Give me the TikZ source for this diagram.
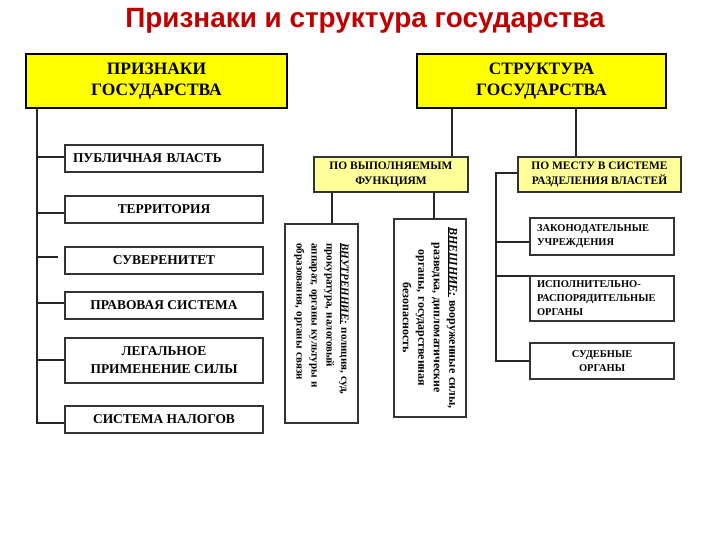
\documentclass[tikz,border=0pt]{standalone}
\usepackage{fontspec}
\setmainfont{Liberation Serif}
\newfontfamily\titlefont{Liberation Sans}
\definecolor{yellowA}{HTML}{FFFF00}
\definecolor{yellowB}{HTML}{FFFF99}
\definecolor{titlered}{HTML}{C00000}
\definecolor{edgegray}{HTML}{333333}
\begin{document}
\begin{tikzpicture}[x=1bp,y=-1bp,
  topbox/.style={draw=black, line width=1.2bp, fill=yellowA, align=center, inner sep=0pt,
    font=\bfseries\fontsize{17.5}{21}\selectfont},
  lbox/.style={draw=edgegray, line width=1.2bp, fill=white, align=center, inner sep=0pt,
    minimum width=198bp, font=\bfseries\fontsize{13.5}{18}\selectfont},
  midbox/.style={draw=edgegray, line width=1.2bp, fill=yellowB, align=center, inner sep=0pt,
    font=\bfseries\fontsize{11.5}{15}\selectfont},
  rbox/.style={draw=edgegray, line width=1.2bp, fill=white, inner sep=0pt,
    minimum width=144bp, font=\bfseries\fontsize{10.5}{14}\selectfont},
  vbox/.style={draw=edgegray, line width=1.2bp, fill=white, inner sep=0pt, rotate=-90},
  conn/.style={draw=black!85, line width=1.2bp}]
\fill[white] (0,0) rectangle (720,540);
\useasboundingbox (0,0) rectangle (720,540);

\node[anchor=base, text=titlered, font=\titlefont\bfseries\fontsize{28}{32}\selectfont] (title) at (365,28) {Признаки и структура государства};

\node[topbox, minimum width=261bp, minimum height=54bp] (b1) at (156.5,81) {ПРИЗНАКИ\\ГОСУДАРСТВА};
\node[topbox, minimum width=249bp, minimum height=54bp] (b2) at (541.5,81) {СТРУКТУРА\\ГОСУДАРСТВА};

% left column
\node[lbox, minimum height=27bp, text width=182bp, align=left, inner xsep=8bp] (pub) at (164,158.5) {ПУБЛИЧНАЯ ВЛАСТЬ};
\node[lbox, minimum height=27bp] (terr) at (164,209.5) {ТЕРРИТОРИЯ};
\node[lbox, minimum height=27bp] (suv) at (164,260.5) {СУВЕРЕНИТЕТ};
\node[lbox, minimum height=27bp] (prav) at (164,305.5) {ПРАВОВАЯ СИСТЕМА};
\node[lbox, minimum height=45bp] (leg) at (164,360.5) {ЛЕГАЛЬНОЕ\\ПРИМЕНЕНИЕ СИЛЫ};
\node[lbox, minimum height=27bp] (nal) at (164,419.5) {СИСТЕМА НАЛОГОВ};

\coordinate (sp) at (37,0);
\draw[conn] (b1.south -| sp) -- ([yshift=-3.5bp]nal.west -| sp) -- ([yshift=-3.5bp]nal.west);
\draw[conn] ([yshift=1.5bp]pub.west -| sp) -- ([yshift=1.5bp]pub.west);
\draw[conn] ([yshift=-3.5bp]terr.west -| sp) -- ([yshift=-3.5bp]terr.west);
\draw[conn] ([yshift=3.5bp]suv.west -| sp) -- ([yshift=3.5bp,xshift=-6bp]suv.west);
\draw[conn] ([yshift=2.5bp]prav.west -| sp) -- ([yshift=2.5bp]prav.west);
\draw[conn] ([yshift=0.5bp]leg.west -| sp) -- ([yshift=0.5bp]leg.west);

% middle column
\node[midbox, minimum width=154bp, minimum height=35bp] (fun) at (391,174.5) {ПО ВЫПОЛНЯЕМЫМ\\ФУНКЦИЯМ};
\node[vbox, minimum width=199bp, minimum height=73bp, text width=160bp, align=left,
  font=\bfseries\fontsize{11}{15}\selectfont] (vnutr) at (321.5,323.5)
  {\underline{\textit{ВНУТРЕННИЕ:}} полиция, суд,\\прокуратура, налоговый\\аппарат, органы культуры и\\образования, органы связи};
\node[vbox, minimum width=198bp, minimum height=72bp, text width=185bp, align=center,
  font=\bfseries\fontsize{12}{15.5}\selectfont] (vnesh) at (430,318)
  {\underline{\textit{ВНЕШНИЕ:}} вооруженные силы,\\разведка, дипломатические\\органы, государственная\\безопасность};

\coordinate (c1) at (452,0);
\coordinate (c2) at (332,0);
\coordinate (c3) at (434,0);
\draw[conn] (b2.south -| c1) -- (fun.north -| c1);
\draw[conn] (fun.south -| c2) -- (vnutr.west -| c2);
\draw[conn] (fun.south -| c3) -- (vnesh.west -| c3);

% right column
\node[midbox, minimum width=163bp, minimum height=35bp] (mesto) at (599.5,174.5) {ПО МЕСТУ В СИСТЕМЕ\\РАЗДЕЛЕНИЯ ВЛАСТЕЙ};
\node[rbox, minimum height=37bp, text width=130bp, align=left, inner xsep=7bp] (zak) at (602,236.5) {ЗАКОНОДАТЕЛЬНЫЕ\\УЧРЕЖДЕНИЯ};
\node[rbox, minimum height=45bp, text width=130bp, align=left, inner xsep=7bp] (isp) at (602,298.5) {ИСПОЛНИТЕЛЬНО-\\РАСПОРЯДИТЕЛЬНЫЕ\\ОРГАНЫ};
\node[rbox, minimum height=36bp, align=center] (sud) at (602,361) {СУДЕБНЫЕ\\ОРГАНЫ};

\coordinate (c4) at (576,0);
\coordinate (c5) at (496,0);
\draw[conn] (b2.south -| c4) -- (mesto.north -| c4);
\draw[conn] ([yshift=1.5bp]mesto.west) -- ([yshift=1.5bp]mesto.west -| c5) -- (sud.west -| c5) -- (sud.west);
\draw[conn] ([yshift=-5.5bp]zak.west -| c5) -- ([yshift=-5.5bp]zak.west);
\draw[conn] ([yshift=-0.6bp]isp.north west -| c5) -- ([yshift=-0.6bp]isp.north west);
\end{tikzpicture}
\end{document}
